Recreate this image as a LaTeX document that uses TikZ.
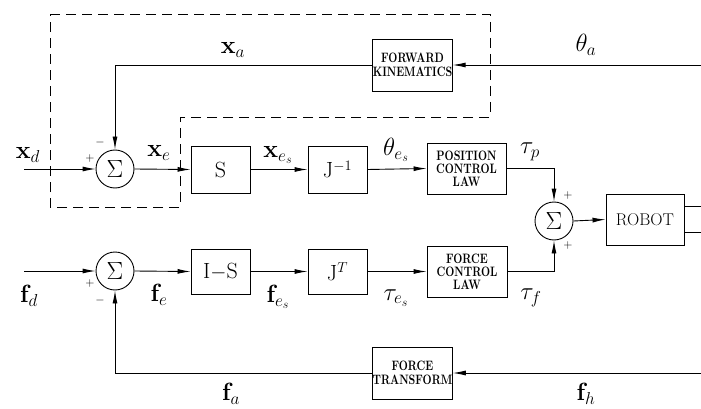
\documentclass[tikz,border=0pt]{standalone}
\usetikzlibrary{arrows.meta}
\begin{document}
\begin{tikzpicture}[x=1pt,y=-1pt,
  line width=0.9pt,
  ar/.style={-{Latex[length=13pt,width=5pt]}},
  blk/.style={draw,inner sep=0pt,font=\fontsize{22}{26}\selectfont},
  sblk/.style={draw,inner sep=0pt,align=center,font=\fontsize{10.5}{12}\selectfont\bfseries},
  sumn/.style={draw,circle,minimum size=38pt,inner sep=0pt,font=\fontsize{23}{26}\selectfont},
  lbl/.style={inner sep=0pt,font=\fontsize{25}{28}\selectfont},
  sgn/.style={inner sep=0pt,font=\fontsize{13}{15}\selectfont},
  dbox/.style={dash pattern=on 10pt off 6pt,line width=0.8pt}]
\useasboundingbox (0,0) rectangle (701,409);
% dashed region
\draw[dbox] (50,14) -- (490,14) -- (490,117) -- (180,117) -- (180,207) -- (50,207) -- cycle;
% blocks
\node[sumn] (s1) at (115,169) {$\Sigma$};
\node[sumn] (s2) at (554,221) {$\Sigma$};
\node[sumn] (s3) at (115,271) {$\Sigma$};
\node[blk,minimum width=59pt,minimum height=47pt] (S) at (220.5,169.5) {S};
\node[blk,minimum width=59pt,minimum height=47pt] (Ji) at (337.5,169.5) {J$^{-1}$};
\node[sblk,minimum width=79pt,minimum height=51pt] (PCL) at (466.5,168.5) {\scalebox{1}[1.3]{POSITION}\\[1pt]\scalebox{1}[1.3]{CONTROL}\\[1pt]\scalebox{1}[1.3]{LAW}};
\node[blk,minimum width=78pt,minimum height=51pt,font=\fontsize{17}{20}\selectfont] (R) at (645,219.5) {ROBOT};
\node[sblk,minimum width=79pt,minimum height=52pt] (FK) at (412.5,65) {\scalebox{1}[1.3]{FORWARD}\\[2pt]\scalebox{1}[1.3]{KINEMATICS}};
\node[blk,minimum width=59pt,minimum height=45pt] (IS) at (220.5,271.5) {I$-$S};
\node[blk,minimum width=59pt,minimum height=45pt] (JT) at (337.5,271.5) {J$^{T}$};
\node[sblk,minimum width=80pt,minimum height=51pt] (FCL) at (467,271.5) {\scalebox{1}[1.3]{FORCE}\\[1pt]\scalebox{1}[1.3]{CONTROL}\\[1pt]\scalebox{1}[1.3]{LAW}};
\node[sblk,minimum width=79pt,minimum height=52pt] (FT) at (412.5,373) {\scalebox{1}[1.3]{FORCE}\\[2pt]\scalebox{1}[1.3]{TRANSFORM}};
% free ends
\coordinate (xdin) at (24,169);
\coordinate (fdin) at (24,271);
\coordinate (thin) at (701,65);
\coordinate (fhin) at (701,373);
\coordinate (ro1) at (701,206);
\coordinate (ro2) at (701,232);
% connectors
\draw[ar] (xdin) -- (s1.west);
\draw[ar] (s1.east) -- (S.west);
\draw[ar] (S.east) -- (Ji.west);
\draw[ar] (Ji.east) -- (PCL.west);
\draw[ar] (PCL.east) -| (s2.north);
\draw[ar] (s2.east) -- (R.west);
\draw (R.east |- ro1) -- (ro1);
\draw (R.east |- ro2) -- (ro2);
\draw[ar] (thin) -- (FK.east);
\draw[ar] (FK.west) -| (s1.north);
\draw[ar] (fdin) -- (s3.west);
\draw[ar] (s3.east) -- (IS.west);
\draw[ar] (IS.east) -- (JT.west);
\draw[ar] (JT.east) -- (FCL.west);
\draw[ar] (FCL.east) -| (s2.south);
\draw[ar] (fhin) -- (FT.east);
\draw[ar] (FT.west) -| (s3.south);
% labels
\node[lbl] (lxd) at (28,155) {$\mathbf{x}_d$};
\node[sgn] (p1) at (90,158) {$+$};
\node[sgn] (m1) at (100,143) {$-$};
\node[lbl] (lxe) at (159,153) {$\mathbf{x}_e$};
\node[lbl] (lxes) at (278,155) {$\mathbf{x}_{e_s}$};
\node[lbl] (lthes) at (396,150) {$\theta_{e_s}$};
\node[lbl] (ltp) at (530,152) {$\tau_p$};
\node[sgn] (p2) at (568,195) {$+$};
\node[sgn] (p3) at (568,245) {$+$};
\node[lbl] (lxa) at (233,50) {$\mathbf{x}_a$};
\node[lbl] (ltha) at (586,45) {$\theta_a$};
\node[lbl] (lfd) at (29,296) {$\mathbf{f}_d$};
\node[sgn] (p4) at (90,283) {$+$};
\node[sgn] (m2) at (100,300) {$-$};
\node[lbl] (lfe) at (159,295) {$\mathbf{f}_e$};
\node[lbl] (lfes) at (278,297) {$\mathbf{f}_{e_s}$};
\node[lbl] (ltes) at (396,298) {$\tau_{e_s}$};
\node[lbl] (ltf) at (531,298) {$\tau_f$};
\node[lbl] (lfa) at (231,394) {$\mathbf{f}_a$};
\node[lbl] (lfh) at (586,394) {$\mathbf{f}_h$};
\end{tikzpicture}
\end{document}
